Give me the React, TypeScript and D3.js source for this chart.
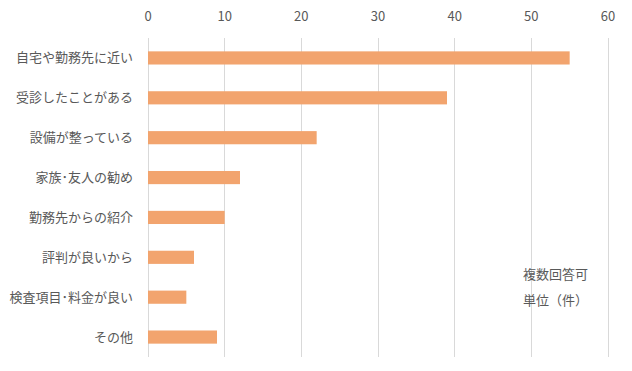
import React, { useEffect, useRef } from "react"
import * as d3 from "d3"

// reasons for choosing (counts)
const categories = [
  "自宅や勤務先に近い",
  "受診したことがある",
  "設備が整っている",
  "家族･友人の勧め",
  "勤務先からの紹介",
  "評判が良いから",
  "検査項目･料金が良い",
  "その他",
]
const values = [55, 39, 22, 12, 10, 6, 5, 9]
const xTicks = [0, 10, 20, 30, 40, 50, 60]
const notes = ["複数回答可", "単位（件）"]

const width = 632
const height = 371
const margin = { top: 38, right: 24, bottom: 14, left: 148 }
const font = "'Noto Sans CJK JP', 'Noto Sans', sans-serif"

const drawChart = (wrapper: SVGSVGElement) => {
  const svg = d3.select(wrapper)
  svg.selectAll("*").remove()

  const x = d3.scaleLinear().domain([0, 60]).range([margin.left, width - margin.right])
  const y = d3
    .scaleBand()
    .domain(categories)
    .range([margin.top, height - margin.bottom])
    .paddingInner(0.67)
    .paddingOuter(0.335)

  // vertical gridlines
  svg
    .append("g")
    .selectAll("line")
    .data(xTicks)
    .enter()
    .append("line")
    .attr("x1", d => x(d))
    .attr("x2", d => x(d))
    .attr("y1", margin.top)
    .attr("y2", height - margin.bottom)
    .attr("stroke", "#d9d9d9")
    .attr("stroke-width", 1)
    .attr("shape-rendering", "crispEdges")

  // top tick labels
  svg
    .append("g")
    .selectAll("text")
    .data(xTicks)
    .enter()
    .append("text")
    .attr("x", d => x(d))
    .attr("y", 16)
    .attr("dy", "0.35em")
    .attr("text-anchor", "middle")
    .attr("fill", "#595959")
    .style("font-family", font)
    .style("font-size", "13px")
    .text(d => d)

  // bars
  svg
    .append("g")
    .selectAll("rect")
    .data(values)
    .enter()
    .append("rect")
    .attr("x", x(0))
    .attr("y", (d, i) => y(categories[i])!)
    .attr("width", d => x(d) - x(0))
    .attr("height", y.bandwidth())
    .attr("fill", "#f2a46e")

  // category labels
  svg
    .append("g")
    .selectAll("text")
    .data(categories)
    .enter()
    .append("text")
    .attr("x", margin.left - 15)
    .attr("y", d => y(d)! + y.bandwidth() / 2)
    .attr("dy", "0.35em")
    .attr("text-anchor", "end")
    .attr("fill", "#595959")
    .style("font-family", font)
    .style("font-size", "13px")
    .text(d => d)

  // notes
  svg
    .append("g")
    .selectAll("text")
    .data(notes)
    .enter()
    .append("text")
    .attr("x", 523)
    .attr("y", (d, i) => 274 + i * 26)
    .attr("dy", "0.35em")
    .attr("fill", "#595959")
    .style("font-family", font)
    .style("font-size", "13px")
    .text(d => d)
}

export default function App() {
  const ref = useRef<SVGSVGElement>(null)
  useEffect(() => {
    if (ref.current) drawChart(ref.current)
  }, [])

  return (
    <svg
      ref={ref}
      width={width}
      height={height}
      style={{ position: "absolute", left: 0, top: 0, background: "#fff" }}
    ></svg>
  )
}
